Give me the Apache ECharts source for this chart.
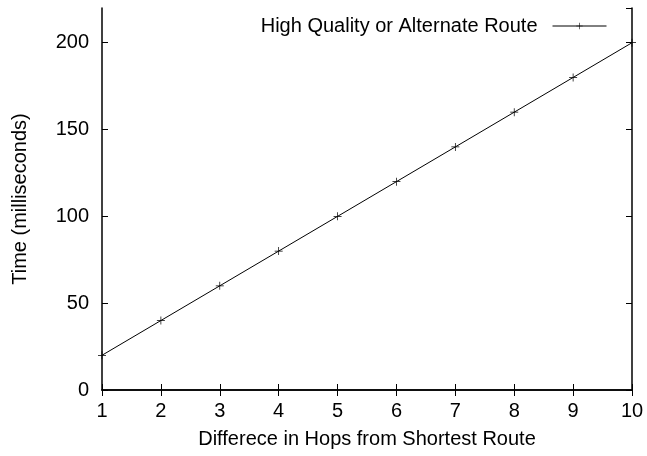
<!DOCTYPE html>
<html><head><meta charset="utf-8">
<script src="https://cdn.jsdelivr.net/npm/echarts@6/dist/echarts.min.js"></script>
<style>html,body{margin:0;padding:0;background:#fff}#c{width:647px;height:456px}</style>
</head><body><div id="c"></div>
<script>
const hops = [1, 2, 3, 4, 5, 6, 7, 8, 9, 10];
const timeMs = [20, 40, 60, 80, 100, 120, 140, 160, 180, 200];
const seriesName = 'High Quality or Alternate Route';
const xTitle = 'Differece in Hops from Shortest Route';
const yTitle = 'Time (milliseconds)';

const FONT = 'Liberation Sans, Arial, Helvetica, sans-serif';
const FS = 20;
const plus = 'path://M4.55,0H5.45V4.55H10V5.45H5.45V10H4.55V5.45H0V4.55H4.55Z';
const chart = echarts.init(document.getElementById('c'), null, {renderer: 'canvas'});
const axisLine = {show: true, lineStyle: {color: '#000', width: 1.5}};
const tick = {show: true, inside: true, length: 6, lineStyle: {color: '#000', width: 1}};
chart.setOption({
  animation: false,
  backgroundColor: '#fff',
  textStyle: {fontFamily: FONT},
  grid: {left: 102, right: 15, top: 8, bottom: 66, containLabel: false},
  legend: {
    show: true, right: 40, top: 16, align: 'right', padding: 0,
    itemWidth: 54, itemHeight: 8, itemGap: 0,
    lineStyle: {width: 1, color: '#000'},
    textStyle: {fontFamily: FONT, fontSize: FS, color: '#000', padding: [0, 10, 0, 0]},
    data: [seriesName]
  },
  xAxis: [{
    type: 'value', min: 1, max: 10, interval: 1, position: 'bottom',
    name: xTitle, nameLocation: 'middle', nameGap: 39,
    nameTextStyle: {fontFamily: FONT, fontSize: FS, color: '#000'},
    axisLine: axisLine, axisTick: tick,
    axisLabel: {fontFamily: FONT, fontSize: FS, color: '#000', margin: 11},
    splitLine: {show: false}
  }, {
    type: 'value', min: 1, max: 10, interval: 1, position: 'top',
    axisLine: axisLine, axisTick: tick,
    axisLabel: {show: false}, splitLine: {show: false}
  }],
  yAxis: [{
    type: 'value', min: 0, max: 220, interval: 50, position: 'left',
    name: yTitle, nameLocation: 'middle', nameGap: 72, nameRotate: 90,
    nameTextStyle: {fontFamily: FONT, fontSize: FS, color: '#000'},
    axisLine: axisLine, axisTick: tick,
    axisLabel: {fontFamily: FONT, fontSize: FS, color: '#000', margin: 13, showMaxLabel: false,
      formatter: function (v) { return v > 200 ? '' : String(v); }},
    splitLine: {show: false}
  }, {
    type: 'value', min: 0, max: 220, interval: 50, position: 'right',
    axisLine: axisLine, axisTick: tick,
    axisLabel: {show: false}, splitLine: {show: false}
  }],
  series: [{
    name: seriesName, type: 'line',
    data: hops.map((h, i) => [h, timeMs[i]]),
    symbol: plus, symbolSize: 8, showSymbol: true,
    lineStyle: {color: '#000', width: 1},
    itemStyle: {color: '#000'},
    clip: false
  }]
});
</script></body></html>
